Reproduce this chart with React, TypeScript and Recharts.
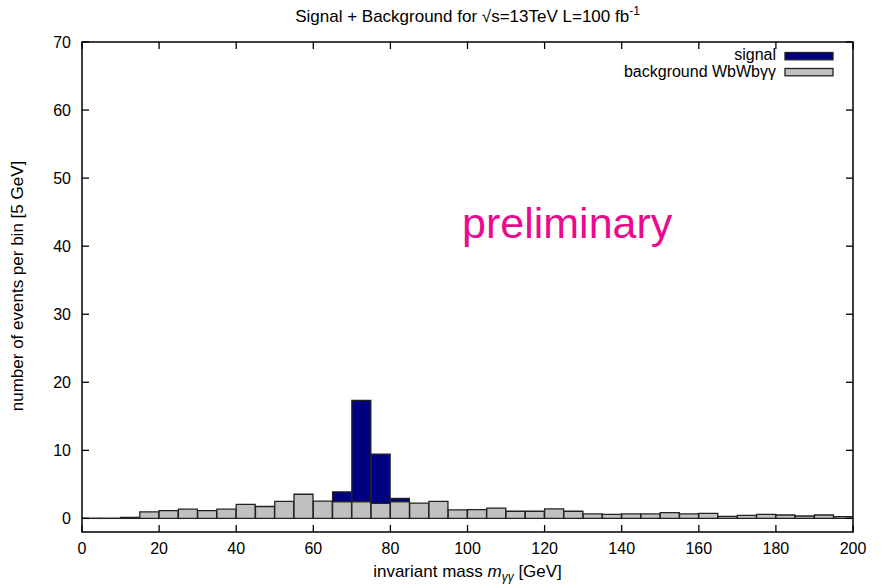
import { BarChart, Bar, XAxis, YAxis, ReferenceArea } from "recharts"

// 5 GeV bins, lower edge of each bin
const binLow = [
  0, 5, 10, 15, 20, 25, 30, 35, 40, 45,
  50, 55, 60, 65, 70, 75, 80, 85, 90, 95,
  100, 105, 110, 115, 120, 125, 130, 135, 140, 145,
  150, 155, 160, 165, 170, 175, 180, 185, 190, 195,
]

// background WbWbγγ, events per bin
const background = [
  0.03, 0.03, 0.15, 0.95, 1.15, 1.35, 1.15, 1.35, 2.05, 1.75,
  2.5, 3.55, 2.55, 2.45, 2.45, 2.2, 2.45, 2.25, 2.5, 1.25,
  1.3, 1.5, 1.05, 1.05, 1.4, 1.05, 0.65, 0.6, 0.65, 0.65,
  0.85, 0.65, 0.75, 0.3, 0.45, 0.6, 0.5, 0.35, 0.5, 0.25,
]

// signal, stacked on top of the background
const signal = [
  0, 0, 0, 0, 0, 0, 0, 0, 0, 0,
  0, 0, 0, 1.45, 14.9, 7.25, 0.5, 0, 0, 0,
  0, 0, 0, 0, 0, 0, 0, 0, 0, 0,
  0, 0, 0, 0, 0, 0, 0, 0, 0, 0,
]

const xTicks = [0, 20, 40, 60, 80, 100, 120, 140, 160, 180, 200]
const yTicks = [0, 10, 20, 30, 40, 50, 60, 70]

const legendItems = [
  { label: "signal", color: "#000080" },
  { label: "background WbWbγγ", color: "#c0c0c0" },
]

const W = 885
const H = 588
const PLOT = { left: 82, right: 853, top: 42, bottom: 532 }
const TICK = 7
const FONT = "'Liberation Sans', Arial, Helvetica, sans-serif"
const FS = 16
const LABEL_FS = 17

const data = binLow.map((lo, i) => ({
  mass: lo + 2.5,
  background: background[i],
  signal: signal[i],
}))

function XTick(props: any) {
  const { x, payload } = props
  return (
    <g>
      <line x1={x} x2={x} y1={PLOT.bottom} y2={PLOT.bottom - TICK} stroke="#000" strokeWidth={1.3} />
      <line x1={x} x2={x} y1={PLOT.top} y2={PLOT.top + TICK} stroke="#000" strokeWidth={1.3} />
      <text x={x} y={PLOT.bottom + 22} textAnchor="middle" fontFamily={FONT} fontSize={FS} fill="#000">
        {payload.value}
      </text>
    </g>
  )
}

function YTick(props: any) {
  const { y, payload } = props
  return (
    <g>
      <line x1={PLOT.left} x2={PLOT.left + TICK} y1={y} y2={y} stroke="#000" strokeWidth={1.3} />
      <line x1={PLOT.right} x2={PLOT.right - TICK} y1={y} y2={y} stroke="#000" strokeWidth={1.3} />
      <text x={PLOT.left - 11} y={y + 5.5} textAnchor="end" fontFamily={FONT} fontSize={FS} fill="#000">
        {payload.value}
      </text>
    </g>
  )
}

export default function App() {
  const cx = (PLOT.left + PLOT.right) / 2
  const cy = 286
  return (
    <div style={{ position: "absolute", left: 0, top: 0, width: W, height: H, background: "#fff" }}>
      <BarChart
        width={W}
        height={H}
        data={data}
        margin={{ top: PLOT.top, right: W - PLOT.right, bottom: 0, left: 0 }}
        barCategoryGap={0}
        barGap={0}
      >
        <XAxis
          dataKey="mass"
          type="number"
          domain={[0, 200]}
          ticks={xTicks}
          interval={0}
          allowDataOverflow
          axisLine={false}
          tickLine={false}
          tickSize={0}
          tickMargin={0}
          height={H - PLOT.bottom}
          tick={XTick}
        />
        <YAxis
          type="number"
          domain={[-2, 70]}
          ticks={yTicks}
          interval={0}
          allowDataOverflow
          axisLine={false}
          tickLine={false}
          tickSize={0}
          tickMargin={0}
          width={PLOT.left}
          tick={YTick}
        />
        <ReferenceArea
          x1={0}
          x2={200}
          y1={-2}
          y2={70}
          fill="none"
          stroke="#000"
          strokeWidth={1.5}
          fillOpacity={0}
          ifOverflow="visible"
        />
        <Bar dataKey="background" stackId="h" fill="#c0c0c0" stroke="#222" strokeWidth={1.3} isAnimationActive={false} />
        <Bar dataKey="signal" stackId="h" fill="#000080" stroke="#222" strokeWidth={1.3} isAnimationActive={false} />
      </BarChart>

      <svg
        width={W}
        height={H}
        style={{ position: "absolute", left: 0, top: 0, pointerEvents: "none" }}
        fontFamily={FONT}
      >
        <text x={cx} y={22} textAnchor="middle" fontSize={LABEL_FS}>
          Signal + Background for √s=13TeV L=100 fb
          <tspan fontSize={12} dy={-7}>-1</tspan>
        </text>

        <text
          x={23}
          y={cy}
          textAnchor="middle"
          fontSize={LABEL_FS}
          transform={`rotate(-90, 23, ${cy})`}
        >
          number of events per bin [5 GeV]
        </text>

        <text x={cx} y={577} textAnchor="middle" fontSize={LABEL_FS}>
          invariant mass <tspan fontStyle="italic">m</tspan>
          <tspan fontStyle="italic" fontSize={12} dy={4}>γγ</tspan>
          <tspan dy={-4}> [GeV]</tspan>
        </text>

        <text x={462} y={238} fontSize={43} fill="#eb0a8e">
          preliminary
        </text>

        {legendItems.map((item, i) => (
          <g key={item.label}>
            <text x={776} y={60 + i * 17} textAnchor="end" fontSize={FS}>
              {item.label}
            </text>
            <rect
              x={785}
              y={52.5 + i * 16}
              width={48}
              height={7.3}
              fill={item.color}
              stroke="#222"
              strokeWidth={1.3}
            />
          </g>
        ))}
      </svg>
    </div>
  )
}
